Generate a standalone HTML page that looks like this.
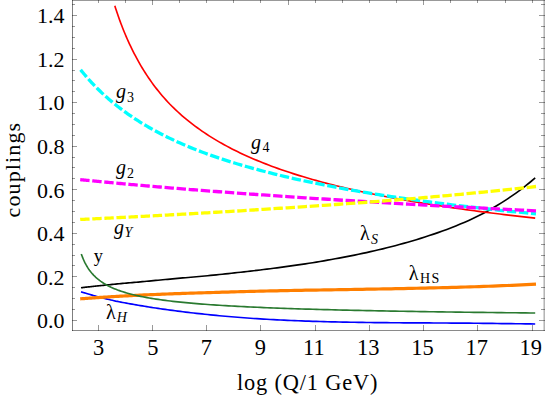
<!DOCTYPE html>
<html><head><meta charset="utf-8"><title>couplings</title>
<style>html,body{margin:0;padding:0;background:#fff}body{width:545px;height:397px;overflow:hidden;font-family:"Liberation Serif",serif}</style></head>
<body>
<svg width="545" height="397" viewBox="0 0 545 397" style="display:block;font-family:'Liberation Serif',serif">
<rect width="545" height="397" fill="#fff"/>
<g fill="none" stroke-linecap="butt" stroke-linejoin="round">
<path d="M81.00,291.85 L81.08,291.87 L81.27,291.93 L81.53,292.01 L81.87,292.11 L82.27,292.23 L82.73,292.37 L83.25,292.52 L83.82,292.70 L84.44,292.88 L85.12,293.08 L85.84,293.30 L86.62,293.52 L87.44,293.77 L88.30,294.02 L89.21,294.28 L90.16,294.56 L91.15,294.85 L92.19,295.14 L93.27,295.45 L94.39,295.77 L95.54,296.10 L96.74,296.44 L97.97,296.78 L99.25,297.14 L100.56,297.48 L101.91,297.82 L103.29,298.16 L104.72,298.50 L106.17,298.85 L107.67,299.21 L109.20,299.57 L110.76,299.94 L112.36,300.32 L113.99,300.69 L115.66,301.08 L117.36,301.42 L119.09,301.76 L120.86,302.10 L122.66,302.44 L124.49,302.78 L126.35,303.13 L128.25,303.47 L130.18,303.82 L132.14,304.17 L134.13,304.52 L136.15,304.87 L138.21,305.23 L140.29,305.58 L142.41,305.93 L144.55,306.28 L146.73,306.63 L148.93,306.98 L151.17,307.33 L153.43,307.69 L155.73,308.04 L158.05,308.39 L160.41,308.73 L162.79,309.08 L165.20,309.43 L167.64,309.77 L170.11,310.11 L172.61,310.44 L175.13,310.78 L177.69,311.11 L180.27,311.44 L182.88,311.76 L185.52,312.09 L188.19,312.40 L190.88,312.72 L193.60,313.03 L196.35,313.34 L199.12,313.64 L201.93,313.94 L204.76,314.25 L207.61,314.55 L210.50,314.85 L213.41,315.14 L216.34,315.42 L219.31,315.71 L222.29,315.98 L225.31,316.25 L228.35,316.52 L231.42,316.78 L234.51,317.04 L237.63,317.29 L240.78,317.53 L243.95,317.77 L247.15,318.00 L250.37,318.23 L253.62,318.45 L256.89,318.67 L260.19,318.88 L263.51,319.08 L266.86,319.28 L270.24,319.47 L273.63,319.65 L277.06,319.83 L280.51,320.01 L283.98,320.18 L287.48,320.34 L291.00,320.50 L294.55,320.65 L298.12,320.79 L301.71,320.93 L305.33,321.06 L308.98,321.19 L312.65,321.31 L316.34,321.43 L320.05,321.54 L323.79,321.64 L327.56,321.74 L331.35,321.84 L335.16,321.92 L338.99,322.01 L342.85,322.09 L346.74,322.16 L350.64,322.23 L354.57,322.30 L358.52,322.36 L362.50,322.42 L366.50,322.47 L370.52,322.52 L374.57,322.57 L378.64,322.61 L382.73,322.65 L386.85,322.68 L390.98,322.72 L395.14,322.75 L399.33,322.78 L403.53,322.81 L407.76,322.83 L412.02,322.85 L416.29,322.88 L420.59,322.90 L424.91,322.92 L429.25,322.94 L433.61,322.96 L438.00,322.99 L442.41,323.01 L446.84,323.03 L451.29,323.06 L455.77,323.09 L460.27,323.12 L464.79,323.15 L469.33,323.19 L473.89,323.23 L478.48,323.27 L483.08,323.32 L487.71,323.37 L492.36,323.43 L497.04,323.49 L501.73,323.56 L506.45,323.63 L511.19,323.67 L515.95,323.71 L520.73,323.77 L525.53,323.83 L530.35,323.90 L535.20,323.99" stroke="#0000ff" stroke-width="1.65"/>
<path d="M81.00,287.76 L81.08,287.75 L81.27,287.73 L81.53,287.70 L81.87,287.66 L82.27,287.61 L82.73,287.56 L83.25,287.50 L83.82,287.43 L84.44,287.36 L85.12,287.28 L85.84,287.19 L86.62,287.11 L87.44,287.01 L88.30,286.92 L89.21,286.81 L90.16,286.71 L91.15,286.60 L92.19,286.48 L93.27,286.36 L94.39,286.24 L95.54,286.12 L96.74,285.99 L97.97,285.86 L99.25,285.73 L100.56,285.59 L101.91,285.45 L103.29,285.31 L104.72,285.16 L106.17,285.01 L107.67,284.86 L109.20,284.71 L110.76,284.56 L112.36,284.40 L113.99,284.25 L115.66,284.09 L117.36,283.93 L119.09,283.77 L120.86,283.60 L122.66,283.44 L124.49,283.27 L126.35,283.10 L128.25,282.94 L130.18,282.77 L132.14,282.60 L134.13,282.42 L136.15,282.25 L138.21,282.08 L140.29,281.90 L142.41,281.69 L144.55,281.48 L146.73,281.27 L148.93,281.06 L151.17,280.85 L153.43,280.63 L155.73,280.42 L158.05,280.20 L160.41,279.98 L162.79,279.76 L165.20,279.54 L167.64,279.32 L170.11,279.09 L172.61,278.87 L175.13,278.64 L177.69,278.41 L180.27,278.17 L182.88,277.94 L185.52,277.70 L188.19,277.46 L190.88,277.22 L193.60,276.97 L196.35,276.72 L199.12,276.47 L201.93,276.22 L204.76,275.96 L207.61,275.70 L210.50,275.41 L213.41,275.11 L216.34,274.81 L219.31,274.51 L222.29,274.20 L225.31,273.88 L228.35,273.56 L231.42,273.23 L234.51,272.90 L237.63,272.55 L240.78,272.21 L243.95,271.85 L247.15,271.49 L250.37,271.12 L253.62,270.74 L256.89,270.35 L260.19,269.95 L263.51,269.54 L266.86,269.12 L270.24,268.70 L273.63,268.26 L277.06,267.81 L280.51,267.36 L283.98,266.90 L287.48,266.43 L291.00,265.94 L294.55,265.44 L298.12,264.92 L301.71,264.39 L305.33,263.84 L308.98,263.28 L312.65,262.70 L316.34,262.10 L320.05,261.48 L323.79,260.84 L327.56,260.18 L331.35,259.50 L335.16,258.80 L338.99,258.08 L342.85,257.34 L346.74,256.60 L350.64,255.84 L354.57,255.07 L358.52,254.26 L362.50,253.43 L366.50,252.57 L370.52,251.68 L374.57,250.76 L378.64,249.81 L382.73,248.83 L386.85,247.82 L390.98,246.77 L395.14,245.69 L399.33,244.57 L403.53,243.42 L407.76,242.23 L412.02,240.99 L416.29,239.70 L420.59,238.37 L424.91,237.00 L429.25,235.58 L433.61,234.11 L438.00,232.60 L442.41,231.03 L446.84,229.41 L451.29,227.71 L455.77,225.95 L460.27,224.11 L464.79,222.18 L469.33,220.16 L473.89,218.05 L478.48,215.83 L483.08,213.46 L487.71,210.96 L492.36,208.32 L497.04,205.56 L501.73,202.66 L506.45,199.61 L511.19,196.43 L515.95,193.09 L520.73,189.58 L525.53,185.89 L530.35,182.00 L535.20,177.93" stroke="#000000" stroke-width="1.65"/>
<path d="M80.20,298.84 L80.28,298.83 L80.47,298.82 L80.73,298.80 L81.07,298.77 L81.47,298.75 L81.93,298.71 L82.45,298.67 L83.03,298.63 L83.66,298.59 L84.33,298.54 L85.06,298.48 L85.84,298.43 L86.66,298.37 L87.53,298.31 L88.44,298.24 L89.39,298.18 L90.39,298.11 L91.43,298.04 L92.51,297.96 L93.63,297.88 L94.79,297.81 L95.99,297.72 L97.23,297.64 L98.51,297.56 L99.83,297.47 L101.18,297.38 L102.57,297.29 L104.00,297.20 L105.46,297.11 L106.96,297.01 L108.50,296.92 L110.06,296.82 L111.67,296.72 L113.31,296.62 L114.98,296.52 L116.68,296.42 L118.42,296.32 L120.20,296.22 L122.00,296.12 L123.84,296.01 L125.71,295.91 L127.62,295.80 L129.55,295.70 L131.52,295.59 L133.52,295.49 L135.55,295.38 L137.61,295.28 L139.70,295.17 L141.82,295.07 L143.97,294.97 L146.16,294.87 L148.37,294.77 L150.62,294.67 L152.89,294.57 L155.19,294.48 L157.52,294.38 L159.89,294.28 L162.28,294.19 L164.70,294.09 L167.15,293.99 L169.63,293.90 L172.13,293.81 L174.67,293.71 L177.23,293.62 L179.82,293.53 L182.44,293.44 L185.09,293.35 L187.76,293.26 L190.47,293.17 L193.20,293.09 L195.95,293.00 L198.74,292.92 L201.55,292.84 L204.39,292.75 L207.26,292.67 L210.15,292.58 L213.07,292.49 L216.02,292.39 L218.99,292.30 L221.99,292.21 L225.02,292.12 L228.07,292.03 L231.15,291.94 L234.25,291.85 L237.39,291.76 L240.54,291.68 L243.72,291.59 L246.93,291.51 L250.17,291.42 L253.43,291.34 L256.71,291.26 L260.02,291.18 L263.36,291.10 L266.72,291.02 L270.10,290.95 L273.51,290.87 L276.95,290.79 L280.41,290.72 L283.89,290.65 L287.40,290.57 L290.94,290.50 L294.50,290.43 L298.08,290.35 L301.69,290.29 L305.32,290.22 L308.98,290.16 L312.66,290.10 L316.37,290.04 L320.10,289.98 L323.85,289.91 L327.63,289.85 L331.43,289.79 L335.25,289.73 L339.10,289.67 L342.98,289.60 L346.87,289.54 L350.79,289.48 L354.74,289.41 L358.70,289.35 L362.69,289.28 L366.71,289.21 L370.74,289.15 L374.80,289.08 L378.89,289.00 L382.99,288.93 L387.12,288.86 L391.28,288.78 L395.45,288.70 L399.65,288.62 L403.87,288.53 L408.11,288.45 L412.38,288.36 L416.67,288.27 L420.98,288.17 L425.32,288.08 L429.67,287.97 L434.05,287.87 L438.46,287.76 L442.88,287.65 L447.33,287.53 L451.80,287.41 L456.29,287.28 L460.80,287.15 L465.34,287.01 L469.89,286.87 L474.47,286.73 L479.08,286.57 L483.70,286.41 L488.35,286.25 L493.01,286.08 L497.70,285.90 L502.41,285.71 L507.15,285.52 L511.90,285.32 L516.68,285.11 L521.48,284.89 L526.30,284.67 L531.14,284.44 L536.00,284.19" stroke="#ff7f00" stroke-width="3.2"/>
<path d="M81.30,253.89 L81.38,254.13 L81.57,254.66 L81.83,255.40 L82.17,256.31 L82.57,257.35 L83.03,258.49 L83.55,259.71 L84.12,260.98 L84.74,262.29 L85.42,263.62 L86.14,264.96 L86.91,266.30 L87.73,267.63 L88.59,268.94 L89.50,270.22 L90.45,271.49 L91.45,272.72 L92.48,273.92 L93.56,275.09 L94.68,276.22 L95.83,277.32 L97.03,278.38 L98.26,279.41 L99.54,280.40 L100.85,281.36 L102.19,282.29 L103.58,283.19 L105.00,284.05 L106.46,284.89 L107.95,285.70 L109.48,286.48 L111.04,287.23 L112.64,287.95 L114.27,288.65 L115.93,289.33 L117.63,289.99 L119.37,290.62 L121.13,291.23 L122.93,291.82 L124.76,292.39 L126.62,292.94 L128.52,293.48 L130.45,293.99 L132.40,294.49 L134.39,294.98 L136.42,295.45 L138.47,295.90 L140.55,296.34 L142.66,296.77 L144.81,297.18 L146.98,297.59 L149.19,297.98 L151.42,298.36 L153.69,298.72 L155.98,299.08 L158.30,299.43 L160.65,299.76 L163.04,300.09 L165.45,300.41 L167.88,300.72 L170.35,301.02 L172.85,301.31 L175.37,301.60 L177.93,301.88 L180.51,302.15 L183.11,302.41 L185.75,302.67 L188.41,302.92 L191.11,303.16 L193.83,303.40 L196.57,303.63 L199.35,303.86 L202.15,304.08 L204.97,304.29 L207.83,304.50 L210.71,304.71 L213.62,304.91 L216.55,305.11 L219.51,305.30 L222.50,305.48 L225.51,305.67 L228.55,305.84 L231.62,306.02 L234.71,306.19 L237.83,306.36 L240.97,306.52 L244.14,306.68 L247.34,306.84 L250.56,306.99 L253.80,307.14 L257.07,307.29 L260.37,307.43 L263.69,307.57 L267.04,307.71 L270.41,307.84 L273.81,307.98 L277.23,308.11 L280.67,308.23 L284.15,308.36 L287.64,308.48 L291.16,308.60 L294.71,308.72 L298.27,308.83 L301.87,308.95 L305.49,309.06 L309.13,309.17 L312.79,309.27 L316.48,309.38 L320.20,309.48 L323.93,309.58 L327.70,309.68 L331.48,309.78 L335.29,309.88 L339.12,309.97 L342.98,310.07 L346.86,310.16 L350.76,310.25 L354.69,310.33 L358.64,310.42 L362.62,310.51 L366.61,310.59 L370.63,310.67 L374.68,310.75 L378.74,310.83 L382.83,310.91 L386.94,310.99 L391.08,311.07 L395.24,311.14 L399.42,311.22 L403.62,311.29 L407.85,311.36 L412.10,311.43 L416.37,311.50 L420.66,311.57 L424.98,311.64 L429.32,311.70 L433.68,311.77 L438.06,311.83 L442.47,311.90 L446.90,311.96 L451.35,312.02 L455.82,312.08 L460.31,312.14 L464.83,312.20 L469.37,312.26 L473.93,312.32 L478.51,312.37 L483.12,312.43 L487.74,312.49 L492.39,312.54 L497.06,312.59 L501.75,312.65 L506.47,312.70 L511.20,312.75 L515.96,312.80 L520.74,312.85 L525.54,312.90 L530.36,312.95 L535.20,313.00" stroke="#2a7a30" stroke-width="1.65"/>
<path d="M114.85,5.87 L114.93,6.12 L115.10,6.65 L115.34,7.42 L115.65,8.38 L116.02,9.52 L116.45,10.81 L116.93,12.25 L117.46,13.81 L118.04,15.49 L118.66,17.28 L119.33,19.16 L120.05,21.12 L120.81,23.17 L121.61,25.28 L122.45,27.45 L123.33,29.68 L124.25,31.95 L125.21,34.26 L126.20,36.60 L127.24,38.98 L128.31,41.37 L129.42,43.79 L130.56,46.22 L131.74,48.65 L132.95,51.10 L134.20,53.54 L135.48,55.99 L136.80,58.45 L138.15,60.91 L139.53,63.36 L140.94,65.80 L142.39,68.22 L143.87,70.63 L145.38,73.02 L146.92,75.39 L148.50,77.73 L150.10,80.06 L151.74,82.36 L153.40,84.64 L155.10,86.90 L156.82,89.12 L158.58,91.33 L160.36,93.50 L162.18,95.66 L164.02,97.78 L165.89,99.87 L167.79,101.94 L169.72,103.99 L171.68,105.98 L173.66,107.93 L175.68,109.87 L177.72,111.77 L179.79,113.65 L181.89,115.51 L184.01,117.34 L186.16,119.14 L188.34,120.92 L190.54,122.67 L192.78,124.40 L195.03,126.10 L197.32,127.78 L199.63,129.44 L201.97,131.07 L204.33,132.68 L206.72,134.26 L209.14,135.82 L211.58,137.36 L214.05,138.88 L216.54,140.37 L219.06,141.84 L221.60,143.30 L224.17,144.73 L226.76,146.14 L229.38,147.53 L232.03,148.90 L234.69,150.25 L237.39,151.58 L240.11,152.89 L242.85,154.18 L245.61,155.46 L248.41,156.71 L251.22,157.95 L254.06,159.17 L256.92,160.38 L259.81,161.57 L262.72,162.74 L265.66,163.89 L268.61,165.03 L271.60,166.15 L274.60,167.26 L277.63,168.35 L280.68,169.43 L283.76,170.50 L286.86,171.54 L289.98,172.58 L293.13,173.60 L296.30,174.61 L299.49,175.60 L302.70,176.58 L305.94,177.55 L309.20,178.51 L312.48,179.45 L315.79,180.38 L319.11,181.30 L322.46,182.20 L325.84,183.10 L329.23,183.98 L332.65,184.85 L336.09,185.72 L339.55,186.57 L343.03,187.41 L346.54,188.24 L350.07,189.06 L353.62,189.87 L357.19,190.66 L360.78,191.45 L364.40,192.23 L368.03,193.00 L371.69,193.77 L375.37,194.52 L379.07,195.26 L382.80,196.00 L386.54,196.72 L390.31,197.44 L394.09,198.15 L397.90,198.85 L401.73,199.54 L405.58,200.23 L409.45,200.90 L413.35,201.57 L417.26,202.23 L421.20,202.89 L425.15,203.53 L429.13,204.17 L433.13,204.81 L437.14,205.43 L441.18,206.05 L445.24,206.66 L449.32,207.27 L453.42,207.87 L457.55,208.46 L461.69,209.04 L465.85,209.62 L470.03,210.20 L474.24,210.76 L478.46,211.32 L482.70,211.88 L486.97,212.43 L491.25,212.97 L495.56,213.51 L499.88,214.04 L504.23,214.57 L508.59,215.09 L512.98,215.61 L517.38,216.12 L521.81,216.63 L526.25,217.13 L530.72,217.62 L535.20,218.11" stroke="#ff0000" stroke-width="1.65"/>
<path d="M80.60,69.77 L80.68,69.87 L80.87,70.10 L81.13,70.43 L81.47,70.85 L81.87,71.35 L82.33,71.92 L82.85,72.55 L83.43,73.25 L84.05,74.00 L84.73,74.80 L85.46,75.66 L86.23,76.56 L87.05,77.51 L87.92,78.49 L88.83,79.51 L89.78,80.57 L90.78,81.66 L91.82,82.79 L92.90,83.93 L94.02,85.11 L95.18,86.31 L96.38,87.53 L97.62,88.77 L98.90,90.02 L100.21,91.30 L101.56,92.58 L102.95,93.88 L104.38,95.20 L105.84,96.52 L107.34,97.85 L108.87,99.19 L110.44,100.53 L112.04,101.88 L113.68,103.23 L115.35,104.58 L117.05,105.94 L118.79,107.29 L120.56,108.65 L122.37,110.00 L124.20,111.36 L126.07,112.71 L127.97,114.05 L129.91,115.40 L131.87,116.73 L133.87,118.07 L135.90,119.40 L137.96,120.72 L140.05,122.03 L142.17,123.34 L144.32,124.64 L146.50,125.93 L148.71,127.22 L150.95,128.50 L153.23,129.77 L155.53,131.02 L157.86,132.27 L160.22,133.52 L162.61,134.75 L165.02,135.97 L167.47,137.18 L169.95,138.38 L172.45,139.58 L174.98,140.76 L177.54,141.93 L180.13,143.09 L182.75,144.25 L185.40,145.39 L188.07,146.52 L190.77,147.64 L193.50,148.74 L196.25,149.82 L199.04,150.90 L201.85,151.97 L204.68,153.03 L207.55,154.08 L210.44,155.11 L213.36,156.14 L216.30,157.15 L219.27,158.16 L222.27,159.16 L225.29,160.14 L228.34,161.12 L231.42,162.08 L234.52,163.04 L237.65,163.98 L240.80,164.92 L243.98,165.84 L247.19,166.76 L250.42,167.67 L253.67,168.56 L256.96,169.45 L260.26,170.33 L263.59,171.22 L266.95,172.09 L270.34,172.96 L273.74,173.82 L277.18,174.67 L280.63,175.52 L284.12,176.35 L287.62,177.17 L291.15,177.99 L294.71,178.80 L298.29,179.60 L301.90,180.39 L305.53,181.18 L309.18,181.95 L312.86,182.72 L316.56,183.48 L320.29,184.24 L324.04,184.98 L327.81,185.72 L331.61,186.45 L335.43,187.17 L339.28,187.89 L343.15,188.60 L347.04,189.30 L350.95,189.99 L354.89,190.68 L358.86,191.36 L362.84,192.04 L366.85,192.71 L370.89,193.37 L374.94,194.02 L379.02,194.67 L383.13,195.31 L387.25,195.95 L391.40,196.58 L395.57,197.20 L399.77,197.82 L403.99,198.43 L408.23,199.04 L412.49,199.64 L416.78,200.23 L421.08,200.82 L425.41,201.40 L429.77,201.98 L434.14,202.55 L438.54,203.12 L442.96,203.68 L447.41,204.23 L451.87,204.78 L456.36,205.33 L460.87,205.87 L465.40,206.41 L469.95,206.94 L474.53,207.46 L479.13,207.98 L483.75,208.50 L488.39,209.01 L493.05,209.52 L497.74,210.02 L502.44,210.52 L507.17,211.01 L511.92,211.50 L516.70,211.99 L521.49,212.47 L526.30,212.94 L531.14,213.42 L536.00,213.88" stroke="#00ffff" stroke-width="3.3" stroke-dasharray="9.4 2.7"/>
<path d="M80.20,179.65 L80.28,179.66 L80.47,179.68 L80.73,179.71 L81.07,179.74 L81.47,179.78 L81.93,179.83 L82.45,179.88 L83.03,179.94 L83.66,180.00 L84.33,180.06 L85.06,180.14 L85.84,180.21 L86.66,180.29 L87.53,180.38 L88.44,180.47 L89.39,180.56 L90.39,180.66 L91.43,180.76 L92.51,180.87 L93.63,180.98 L94.79,181.09 L95.99,181.21 L97.23,181.33 L98.51,181.45 L99.83,181.58 L101.18,181.71 L102.57,181.84 L104.00,181.97 L105.46,182.11 L106.96,182.26 L108.50,182.40 L110.06,182.55 L111.67,182.70 L113.31,182.85 L114.98,183.01 L116.68,183.17 L118.42,183.33 L120.20,183.49 L122.00,183.66 L123.84,183.82 L125.71,183.99 L127.62,184.17 L129.55,184.34 L131.52,184.52 L133.52,184.70 L135.55,184.88 L137.61,185.06 L139.70,185.25 L141.82,185.43 L143.97,185.62 L146.16,185.81 L148.37,186.01 L150.62,186.20 L152.89,186.40 L155.19,186.60 L157.52,186.80 L159.89,187.00 L162.28,187.20 L164.70,187.40 L167.15,187.61 L169.63,187.82 L172.13,188.02 L174.67,188.23 L177.23,188.44 L179.82,188.66 L182.44,188.87 L185.09,189.08 L187.76,189.30 L190.47,189.52 L193.20,189.74 L195.95,189.95 L198.74,190.18 L201.55,190.40 L204.39,190.62 L207.26,190.84 L210.15,191.06 L213.07,191.29 L216.02,191.51 L218.99,191.74 L221.99,191.96 L225.02,192.19 L228.07,192.42 L231.15,192.65 L234.25,192.88 L237.39,193.11 L240.54,193.34 L243.72,193.57 L246.93,193.80 L250.17,194.03 L253.43,194.26 L256.71,194.50 L260.02,194.73 L263.36,194.97 L266.72,195.20 L270.10,195.43 L273.51,195.67 L276.95,195.90 L280.41,196.14 L283.89,196.38 L287.40,196.61 L290.94,196.85 L294.50,197.09 L298.08,197.32 L301.69,197.56 L305.32,197.81 L308.98,198.05 L312.66,198.29 L316.37,198.53 L320.10,198.78 L323.85,199.02 L327.63,199.27 L331.43,199.51 L335.25,199.75 L339.10,200.00 L342.98,200.24 L346.87,200.48 L350.79,200.73 L354.74,200.97 L358.70,201.22 L362.69,201.46 L366.71,201.70 L370.74,201.95 L374.80,202.19 L378.89,202.43 L382.99,202.68 L387.12,202.92 L391.28,203.16 L395.45,203.40 L399.65,203.65 L403.87,203.89 L408.11,204.13 L412.38,204.37 L416.67,204.61 L420.98,204.86 L425.32,205.10 L429.67,205.34 L434.05,205.58 L438.46,205.82 L442.88,206.06 L447.33,206.30 L451.80,206.54 L456.29,206.78 L460.80,207.02 L465.34,207.26 L469.89,207.49 L474.47,207.73 L479.08,207.97 L483.70,208.21 L488.35,208.44 L493.01,208.68 L497.70,208.92 L502.41,209.15 L507.15,209.39 L511.90,209.62 L516.68,209.85 L521.48,210.09 L526.30,210.32 L531.14,210.56 L536.00,210.79" stroke="#ff00ff" stroke-width="3.3" stroke-dasharray="9.4 2.7"/>
<path d="M80.20,219.49 L80.28,219.48 L80.47,219.47 L80.73,219.46 L81.07,219.45 L81.47,219.43 L81.93,219.40 L82.45,219.38 L83.03,219.35 L83.66,219.32 L84.33,219.29 L85.06,219.25 L85.84,219.22 L86.66,219.18 L87.53,219.13 L88.44,219.09 L89.39,219.04 L90.39,219.00 L91.43,218.95 L92.51,218.89 L93.63,218.84 L94.79,218.78 L95.99,218.72 L97.23,218.66 L98.51,218.60 L99.83,218.53 L101.18,218.47 L102.57,218.40 L104.00,218.33 L105.46,218.26 L106.96,218.18 L108.50,218.10 L110.06,218.03 L111.67,217.95 L113.31,217.86 L114.98,217.78 L116.68,217.69 L118.42,217.60 L120.20,217.51 L122.00,217.42 L123.84,217.33 L125.71,217.23 L127.62,217.14 L129.55,217.04 L131.52,216.93 L133.52,216.83 L135.55,216.73 L137.61,216.62 L139.70,216.51 L141.82,216.40 L143.97,216.28 L146.16,216.17 L148.37,216.05 L150.62,215.93 L152.89,215.81 L155.19,215.69 L157.52,215.56 L159.89,215.44 L162.28,215.31 L164.70,215.18 L167.15,215.04 L169.63,214.91 L172.13,214.77 L174.67,214.63 L177.23,214.49 L179.82,214.34 L182.44,214.20 L185.09,214.05 L187.76,213.90 L190.47,213.74 L193.20,213.59 L195.95,213.43 L198.74,213.27 L201.55,213.11 L204.39,212.95 L207.26,212.78 L210.15,212.61 L213.07,212.44 L216.02,212.26 L218.99,212.09 L221.99,211.91 L225.02,211.73 L228.07,211.54 L231.15,211.36 L234.25,211.17 L237.39,210.98 L240.54,210.78 L243.72,210.59 L246.93,210.39 L250.17,210.19 L253.43,209.98 L256.71,209.77 L260.02,209.56 L263.36,209.35 L266.72,209.13 L270.10,208.92 L273.51,208.69 L276.95,208.47 L280.41,208.24 L283.89,208.01 L287.40,207.78 L290.94,207.54 L294.50,207.30 L298.08,207.05 L301.69,206.81 L305.32,206.57 L308.98,206.33 L312.66,206.08 L316.37,205.83 L320.10,205.57 L323.85,205.32 L327.63,205.05 L331.43,204.79 L335.25,204.52 L339.10,204.25 L342.98,203.97 L346.87,203.69 L350.79,203.41 L354.74,203.12 L358.70,202.83 L362.69,202.53 L366.71,202.23 L370.74,201.92 L374.80,201.61 L378.89,201.30 L382.99,200.98 L387.12,200.66 L391.28,200.33 L395.45,200.00 L399.65,199.66 L403.87,199.32 L408.11,198.96 L412.38,198.60 L416.67,198.24 L420.98,197.87 L425.32,197.49 L429.67,197.11 L434.05,196.72 L438.46,196.33 L442.88,195.93 L447.33,195.53 L451.80,195.11 L456.29,194.70 L460.80,194.27 L465.34,193.84 L469.89,193.41 L474.47,192.96 L479.08,192.51 L483.70,192.06 L488.35,191.59 L493.01,191.12 L497.70,190.64 L502.41,190.15 L507.15,189.66 L511.90,189.16 L516.68,188.64 L521.48,188.12 L526.30,187.60 L531.14,187.06 L536.00,186.51" stroke="#ffff00" stroke-width="3.3" stroke-dasharray="9.4 2.7"/>
</g>
<g stroke="#000" stroke-width="1" fill="none" shape-rendering="crispEdges">
<path d="M72.5,0V331.0" stroke-opacity="0.5"/>
<path d="M72.0,330.5H544.5" stroke-opacity="0.46"/>
<path d="M72.0,0.5H545" stroke-opacity="0.40"/>
<path d="M544.15,0V331.0" stroke-opacity="0.45" shape-rendering="auto"/>
<path d="M72.0,320.5h5.0M545.0,320.5h-6.0M72.0,309.5h3.0M545.0,309.5h-4.0M72.0,298.5h3.0M545.0,298.5h-4.0M72.0,287.5h3.0M545.0,287.5h-4.0M72.0,276.5h5.0M545.0,276.5h-6.0M72.0,265.5h3.0M545.0,265.5h-4.0M72.0,255.5h3.0M545.0,255.5h-4.0M72.0,244.5h3.0M545.0,244.5h-4.0M72.0,233.5h5.0M545.0,233.5h-6.0M72.0,222.5h3.0M545.0,222.5h-4.0M72.0,211.5h3.0M545.0,211.5h-4.0M72.0,200.5h3.0M545.0,200.5h-4.0M72.0,189.5h5.0M545.0,189.5h-6.0M72.0,178.5h3.0M545.0,178.5h-4.0M72.0,167.5h3.0M545.0,167.5h-4.0M72.0,157.5h3.0M545.0,157.5h-4.0M72.0,146.5h5.0M545.0,146.5h-6.0M72.0,135.5h3.0M545.0,135.5h-4.0M72.0,124.5h3.0M545.0,124.5h-4.0M72.0,113.5h3.0M545.0,113.5h-4.0M72.0,102.5h5.0M545.0,102.5h-6.0M72.0,91.5h3.0M545.0,91.5h-4.0M72.0,80.5h3.0M545.0,80.5h-4.0M72.0,70.5h3.0M545.0,70.5h-4.0M72.0,59.5h5.0M545.0,59.5h-6.0M72.0,48.5h3.0M545.0,48.5h-4.0M72.0,37.5h3.0M545.0,37.5h-4.0M72.0,26.5h3.0M545.0,26.5h-4.0M72.0,15.5h5.0M545.0,15.5h-6.0M72.0,4.5h3.0M545.0,4.5h-4.0M98.5,331.0v-6.0M152.5,331.0v-6.0M206.5,331.0v-6.0M260.5,331.0v-6.0M315.5,331.0v-6.0M369.5,331.0v-6.0M423.5,331.0v-6.0M477.5,331.0v-6.0M532.5,331.0v-6.0M98.5,0.0v3.0M125.5,0.0v3.0M152.5,0.0v5.0M179.5,0.0v3.0M206.5,0.0v3.0M233.5,0.0v3.0M260.5,0.0v3.0M288.5,0.0v5.0M315.5,0.0v3.0M342.5,0.0v3.0M369.5,0.0v3.0M396.5,0.0v3.0M423.5,0.0v5.0M450.5,0.0v3.0M477.5,0.0v3.0M505.5,0.0v3.0M532.5,0.0v3.0" stroke-opacity="0.40"/>
</g>
<g fill="#000" stroke="none" font-family="'Liberation Serif',serif">
<text x="64.4" y="328.3" font-size="22" text-anchor="end">0.0</text>
<text x="64.4" y="284.73" font-size="22" text-anchor="end">0.2</text>
<text x="64.4" y="241.16" font-size="22" text-anchor="end">0.4</text>
<text x="64.4" y="197.58" font-size="22" text-anchor="end">0.6</text>
<text x="64.4" y="154.01" font-size="22" text-anchor="end">0.8</text>
<text x="64.4" y="110.44" font-size="22" text-anchor="end">1.0</text>
<text x="64.4" y="66.87" font-size="22" text-anchor="end">1.2</text>
<text x="64.4" y="23.3" font-size="22" text-anchor="end">1.4</text>
<text x="98.5" y="355.3" font-size="22.4" text-anchor="middle">3</text>
<text x="152.75" y="355.3" font-size="22.4" text-anchor="middle">5</text>
<text x="206.3" y="355.3" font-size="22.4" text-anchor="middle">7</text>
<text x="260.45" y="355.3" font-size="22.4" text-anchor="middle">9</text>
<text x="313.9" y="355.3" font-size="22.4" text-anchor="middle">11</text>
<text x="368.25" y="355.3" font-size="22.4" text-anchor="middle">13</text>
<text x="422.5" y="355.3" font-size="22.4" text-anchor="middle">15</text>
<text x="476.75" y="355.3" font-size="22.4" text-anchor="middle">17</text>
<text x="530.8" y="355.3" font-size="22.4" text-anchor="middle">19</text>
<text x="20.5" y="217.4" font-size="22" textLength="94.5" lengthAdjust="spacing" transform="rotate(-90 20.5 217.4)">couplings</text>
<text x="237.0" y="389.5" font-size="22.4" textLength="140.5" lengthAdjust="spacing">log (Q/1 GeV)</text>
<text x="115.9" y="98.3" font-size="20" font-style="italic">g</text>
<text x="127.0" y="102.0" font-size="14">3</text>
<text x="250.9" y="148.5" font-size="20" font-style="italic">g</text>
<text x="262.4" y="152.0" font-size="14">4</text>
<text x="116.0" y="174.4" font-size="20" font-style="italic">g</text>
<text x="127.1" y="177.9" font-size="14">2</text>
<text x="114.0" y="233.85" font-size="20" font-style="italic">g</text>
<text x="124.5" y="237.4" font-size="14" font-style="italic">Y</text>
<text x="93.75" y="261.8" font-size="18.5">y</text>
<text x="105.9" y="318.6" font-size="20">λ</text>
<text x="116.7" y="322.0" font-size="14" font-style="italic">H</text>
<text x="359.9" y="240.1" font-size="20">λ</text>
<text x="371.0" y="243.6" font-size="14" font-style="italic">S</text>
<text x="408.7" y="279.6" font-size="20">λ</text>
<text x="420.0" y="282.6" font-size="14">H</text>
<text x="431.6" y="282.6" font-size="14">S</text>
</g>
</svg>
</body></html>
